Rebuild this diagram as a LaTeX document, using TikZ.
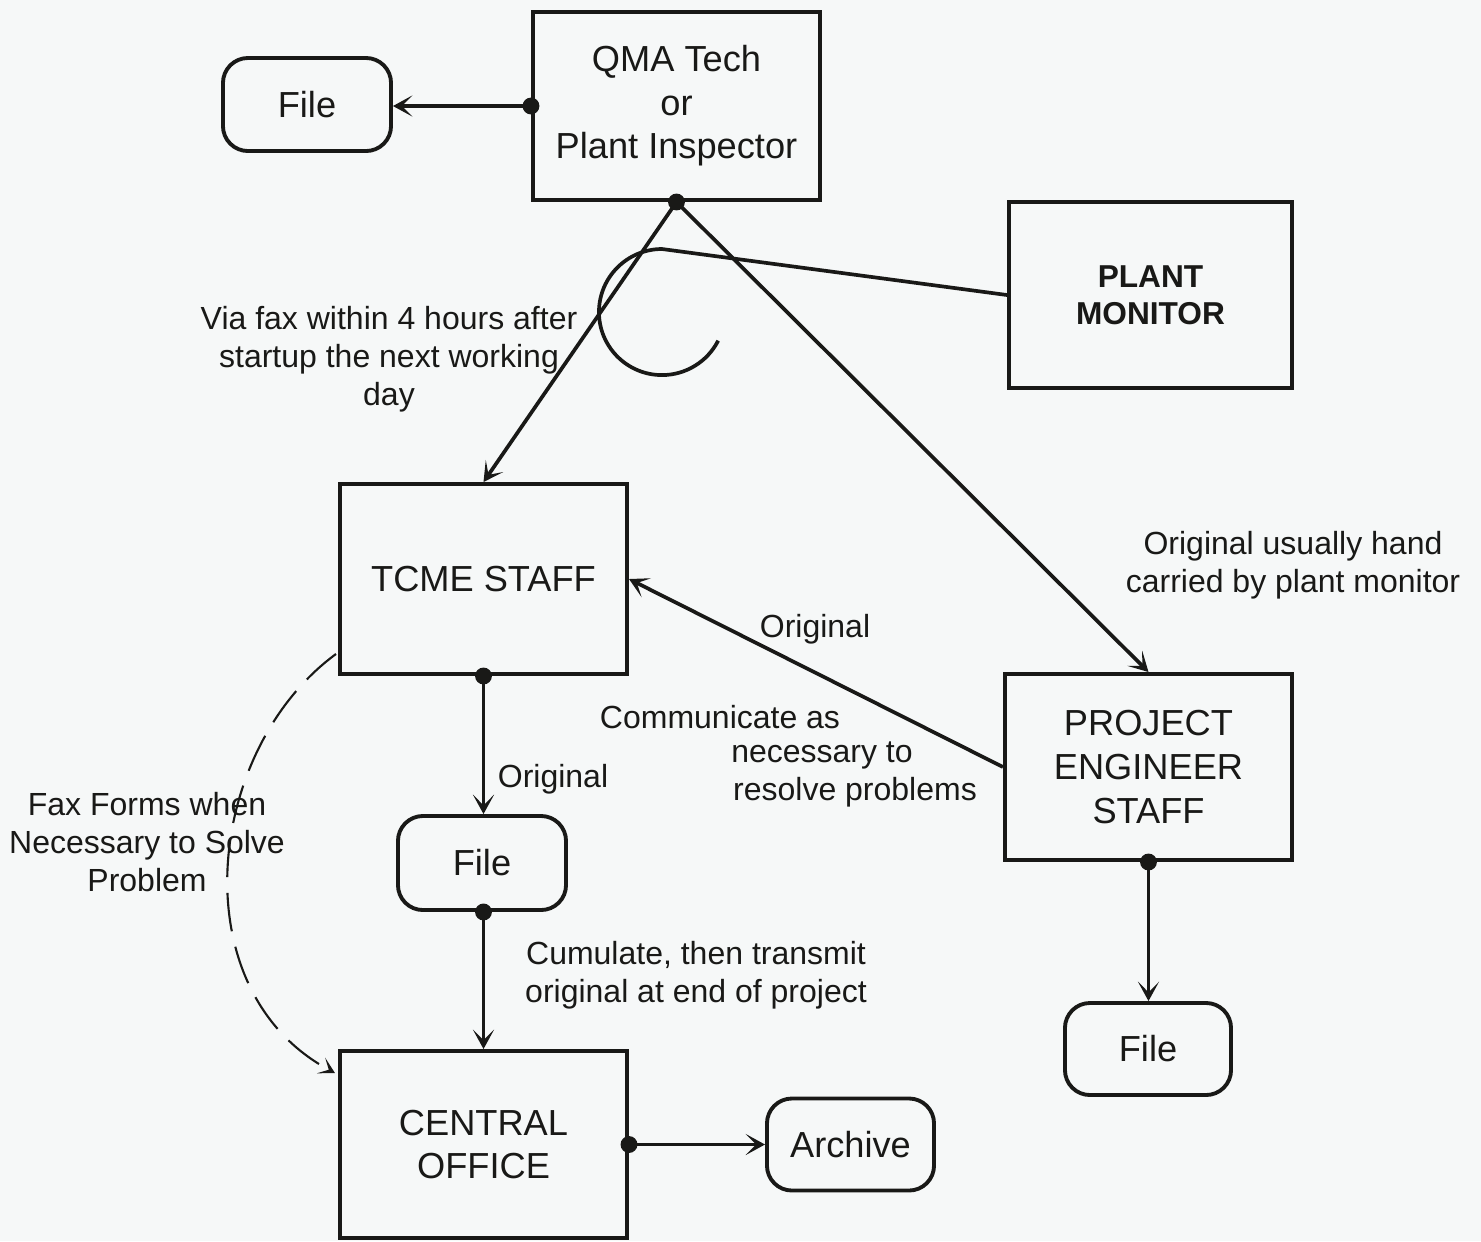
\documentclass[tikz,border=0pt]{standalone}
\usepackage{fontspec}
\setmainfont{Liberation Sans}
\usetikzlibrary{arrows.meta,calc}
\definecolor{ink}{rgb}{0.1,0.1,0.09}
\definecolor{paper}{rgb}{0.965,0.972,0.972}

\begin{document}
\begin{tikzpicture}[x=0.01cm,y=-0.01cm,
  every node/.style={text=ink},
  box/.style={draw=ink, line width=1.1pt, inner sep=0pt, align=center,
              font=\fontsize{10.3}{12.4}\selectfont},
  rbox/.style={box, rounded corners=0.25cm},
  lbl/.style={align=center, inner sep=0pt, font=\fontsize{9.1}{10.8}\selectfont},
  conn/.style={draw=ink, line width=1.05pt},
  flow/.style={conn, -{Stealth[length=5.5pt,width=6pt,inset=3pt]}},
  faxline/.style={draw=ink, line width=0.6pt, dash pattern=on 11pt off 4.5pt,
                  -{Stealth[length=4.5pt,width=5pt,inset=2.5pt]}}]

% page
\fill[paper] (0,0) rectangle (1481,1241);
\useasboundingbox (0,0) rectangle (1481,1241);

% boxes
\node[box, minimum width=2.87cm, minimum height=1.88cm] (qma) at (676.5,106)
  {QMA Tech\\or\\Plant Inspector};
\node[rbox, minimum width=1.68cm, minimum height=0.93cm] (file1) at (307,104.5) {File};
\node[box, minimum width=2.83cm, minimum height=1.86cm,
      font=\fontsize{9}{10.6}\selectfont\bfseries] (pm) at (1150.5,295) {PLANT\\MONITOR};
\node[box, minimum width=2.87cm, minimum height=1.90cm] (tcme) at (483.5,579) {TCME STAFF};
\node[box, minimum width=2.87cm, minimum height=1.86cm] (pe) at (1148.5,767)
  {PROJECT\\ENGINEER\\STAFF};
\node[rbox, minimum width=1.68cm, minimum height=0.94cm] (file2) at (482,863) {File};
\node[rbox, minimum width=1.66cm, minimum height=0.92cm] (file3) at (1148,1049) {File};
\node[box, minimum width=2.87cm, minimum height=1.87cm] (co) at (483.5,1144.5)
  {CENTRAL\\OFFICE};
\node[rbox, minimum width=1.67cm, minimum height=0.92cm] (arch) at (850.5,1144.5) {Archive};

% connectors
\draw[flow] (qma.west) -- (qma.west -| file1.east);
\fill[ink] (qma.west) circle[radius=2.4pt];

\draw[flow] (qma.south) -- (tcme.north);
\draw[flow] (qma.south) -- (pe.north);
\fill[ink] (qma.south) circle[radius=2.4pt];

\draw[conn] (pm.west) -- (662,249) arc[start angle=90, end angle=333, radius=0.63cm];

\draw[flow] (pe.west) -- (tcme.east);

\draw[flow] (tcme.south) -- (tcme.south |- file2.north);
\fill[ink] (tcme.south) circle[radius=2.4pt];

\draw[flow] (file2.south -| co.north) -- (co.north);
\fill[ink] (file2.south -| co.north) circle[radius=2.4pt];

\draw[flow] (co.east) -- (arch.west);
\fill[ink] (co.east) circle[radius=2.4pt];

\draw[flow] (pe.south) -- (pe.south |- file3.north);
\fill[ink] (pe.south) circle[radius=2.4pt];

\coordinate (faxstart) at ($(tcme.south west)+(-2,-22)$);
\coordinate (faxend) at ($(co.north west)+(-3,24)$);
\draw[faxline] (faxstart) .. controls (205,750) and (180,990) .. (faxend);

% labels
\node[lbl] (lvia) at (389,359) {Via fax within 4 hours after\\startup the next working\\day};
\node[lbl] (lhand) at (1293,565) {Original usually hand\\carried by plant monitor};
\node[lbl] (lfax) at (147,842) {Fax Forms when\\Necessary to Solve\\Problem};
\node[lbl] (lorig1) at (553,779) {Original};
\node[lbl] (lorig2) at (815,629) {Original};
\node[lbl] (lcomm1) at (720,717) {Communicate as};
\node[lbl] (lcomm2) at (822,755) {necessary to};
\node[lbl] (lcomm3) at (855,792) {resolve problems};
\node[lbl] (lcum) at (696,975) {Cumulate, then transmit\\original at end of project};

\end{tikzpicture}
\end{document}
